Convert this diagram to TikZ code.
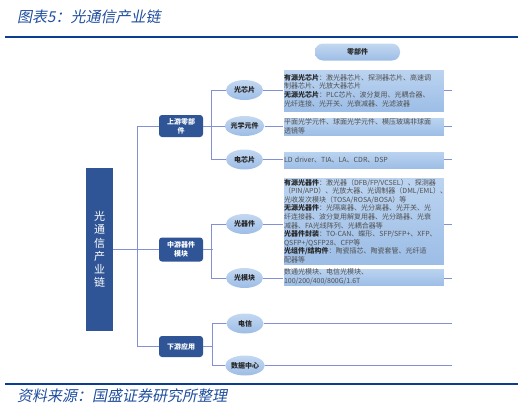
\documentclass[tikz,border=0pt]{standalone}
\usepackage{fontspec}
\setmainfont{Noto Sans CJK SC}
\newfontfamily\slfont[FakeSlant=0.2]{Noto Sans CJK SC}
\usetikzlibrary{shapes.geometric}
\definecolor{dkblue}{HTML}{2F5597}
\definecolor{linec}{HTML}{8490D4}
\definecolor{ovtop}{HTML}{C3D8F1}
\definecolor{ovbot}{HTML}{9DBDE6}
\definecolor{bxtop}{HTML}{BCD4F0}
\definecolor{bxbot}{HTML}{9CBDE6}
\definecolor{txtgray}{HTML}{505050}
\definecolor{txtdark}{HTML}{262626}
\definecolor{ttl}{HTML}{1F4E9E}
\definecolor{rulec}{HTML}{0B3D91}
\begin{document}
\begin{tikzpicture}[x=1pt,y=-1pt,
  conn/.style={draw=linec, line width=1pt},
  dark/.style={fill=dkblue, text=white, rounded corners=3pt, minimum width=44pt, align=center, inner sep=0pt, font=\fontsize{7}{9}\selectfont\bfseries},
  oval/.style={ellipse, top color=ovtop, bottom color=ovbot, minimum width=37pt, minimum height=20pt, inner sep=0pt, text=txtdark, font=\fontsize{7}{8}\selectfont\bfseries},
  tbox/.style={top color=bxtop, bottom color=bxbot, draw=white, line width=0.4pt, text width=159pt, align=left, inner xsep=1pt, inner ysep=1pt, text=txtgray, font=\fontsize{7}{8.8}\selectfont},
  rule/.style={draw=rulec, line width=2pt},
]
\useasboundingbox (0,0) rectangle (531,410);
% title and rules
\node[anchor=west, text=ttl, inner sep=0pt, font=\slfont\fontsize{15}{15}\selectfont] (title) at (17,17) {图表5：光通信产业链};
\coordinate (r1a) at (5,37); \coordinate (r1b) at (518,37);
\draw[rule] (r1a) -- (r1b);
\coordinate (r2a) at (5,384); \coordinate (r2b) at (518,384);
\draw[rule, line width=1.6pt] (r2a) -- (r2b);
\node[anchor=west, text=ttl, inner sep=0pt, font=\slfont\fontsize{15}{15}\selectfont] (source) at (17,396) {资料来源：国盛证券研究所整理};
% header pill
\node[top color=ovtop, bottom color=ovbot, rounded corners=8pt, minimum width=85pt, minimum height=17pt, inner sep=0pt, text=txtdark, font=\fontsize{7}{8}\selectfont\bfseries] (part) at (357.5,52) {零部件};
% left tall box
\node[fill=dkblue, text=white, minimum width=27pt, minimum height=163pt, inner sep=0pt, align=center, font=\fontsize{11}{13.2}\selectfont] (chain) at (99.5,249.5) {光\\通\\信\\产\\业\\链};
% level-2 boxes
\node[dark, minimum height=22pt] (up) at (181,126) {上游零部\\件};
\node[dark, minimum height=24pt] (mid) at (181,249.5) {中游器件\\模块};
\node[dark, minimum height=21pt] (down) at (181,346.5) {下游应用};
% ellipses
\node[oval] (e1) at (244.5,90) {光芯片};
\node[oval] (e2) at (244.5,126) {光学元件};
\node[oval] (e3) at (244.5,159.5) {电芯片};
\node[oval] (e4) at (244.5,224) {光器件};
\node[oval] (e5) at (244.5,278) {光模块};
\node[oval] (e6) at (245,323.5) {电信};
\node[oval] (e7) at (245,365.5) {数据中心};
% text boxes
\node[tbox, minimum height=43pt] (t1) at (363.5,90.5) {\textbf{\color{txtdark}有源光芯片}：激光器芯片、探测器芯片、高速调\\制器芯片、光放大器芯片\\\textbf{\color{txtdark}无源光芯片}：PLC芯片、波分复用、光耦合器、\\光纤连接、光开关、光衰减器、光滤波器};
\node[tbox, minimum height=19pt] (t2) at (363.5,126.5) {平面光学元件、球面光学元件、模压玻璃非球面\\透镜等};
\node[tbox, minimum height=18pt] (t3) at (363.5,160) {LD driver、TIA、LA、CDR、DSP};
\node[tbox, minimum height=88pt, font=\fontsize{7}{8.6}\selectfont] (t4) at (363.5,221) {\textbf{\color{txtdark}有源光器件}：激光器（DFB/FP/VCSEL）、探测器\\\mbox{（PIN/APD）、光放大器、光调制器（DML/EML）、}\\光收发次模块（TOSA/ROSA/BOSA）等\\\textbf{\color{txtdark}无源光器件}：光隔离器、光分离器、光开关、光\\纤连接器、波分复用解复用器、光分路器、光衰\\减器、FA光线阵列、光耦合器等\\\mbox{\textbf{\color{txtdark}光器件封装}：TO-CAN、蝶形、SFP/SFP+、XFP、}\\QSFP+/QSFP28、CFP等\\\textbf{\color{txtdark}光组件/结构件}：陶瓷插芯、陶瓷套管、光纤适\\配器等};
\node[tbox, minimum height=18pt] (t5) at (363.5,277) {数通光模块、电信光模块、\\100/200/400/800G/1.6T};
% connectors
\coordinate (stubend) at (452,0);
\draw[conn] (up.west) -- ++(-21,0) |- (down.west);
\draw[conn] (chain.east) -- (mid.west);
\draw[conn] (e1.west) -- ++(-14,0) |- (e3.west);
\draw[conn] (up.east) -- (e2.west);
\draw[conn] (e4.west) -- ++(-14,0) |- (e5.west);
\draw[conn] (mid.east) -- ++(9.5,0);
\draw[conn] (e6.west) -- ++(-14,0) |- (e7.west);
\draw[conn] (down.east) -- ++(9.5,0);
\foreach \e/\t in {e1/t1,e2/t2,e3/t3,e4/t4,e5/t5}{
  \draw[conn] (\e.east) -- (\e.east -| \t.west);
  \draw[conn] (\e.center -| \t.east) -- (\e.center -| stubend);
}
\draw[conn] (e6.east) -- (e6.center -| stubend);
\draw[conn] (e7.east) -- (e7.center -| stubend);
\end{tikzpicture}
\end{document}
